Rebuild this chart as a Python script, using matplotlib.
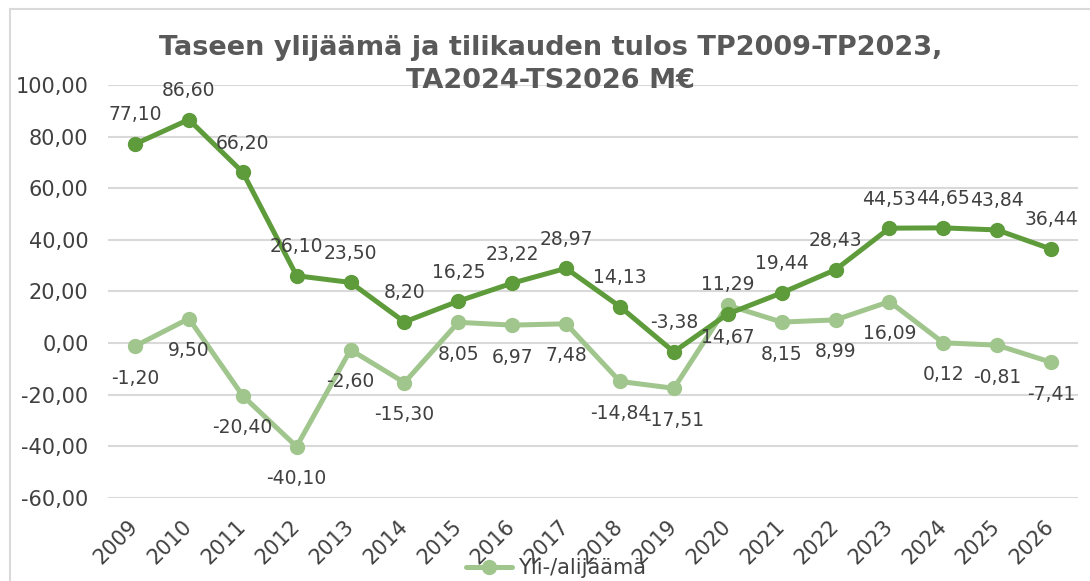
import numpy as np
import matplotlib
matplotlib.use("Agg")
import matplotlib.pyplot as plt
from matplotlib.patches import Rectangle

plt.rcParams.update({"font.family": ["DejaVu Sans"], "font.size": 13})

YEARS = ["2009", "2010", "2011", "2012", "2013", "2014", "2015", "2016", "2017",
         "2018", "2019", "2020", "2021", "2022", "2023", "2024", "2025", "2026"]
TASE = [77.10, 86.60, 66.20, 26.10, 23.50, 8.20, 16.25, 23.22, 28.97,
        14.13, -3.38, 11.29, 19.44, 28.43, 44.53, 44.65, 43.84, 36.44]
YLIALI = [-1.20, 9.50, -20.40, -40.10, -2.60, -15.30, 8.05, 6.97, 7.48,
          -14.84, -17.51, 14.67, 8.15, 8.99, 16.09, 0.12, -0.81, -7.41]

DARK = "#5e9b3b"
LIGHT = "#a0c68d"
TXT = "#404040"

def fi(v):
    return f"{v:.2f}".replace(".", ",")

fig = plt.figure(figsize=(10.9, 5.81), dpi=100)
ax = fig.add_axes([0.0991, 0.1429, 0.8899, 0.7108])
x = np.arange(len(YEARS))

ax.plot(x, YLIALI, color=LIGHT, lw=3.6, marker="o", ms=10, label="Yli-/alijäämä",
        solid_capstyle="round", zorder=3)
ax.plot(x, TASE, color=DARK, lw=3.6, marker="o", ms=10, label="Taseen ylijäämä",
        solid_capstyle="round", zorder=4)

for xi, v in zip(x, TASE):
    ax.annotate(fi(v), (xi, v), xytext=(0, 21), textcoords="offset points",
                ha="center", va="center", fontsize=13.5, color=TXT, zorder=5)
for xi, v in zip(x, YLIALI):
    ax.annotate(fi(v), (xi, v), xytext=(0, -23), textcoords="offset points",
                ha="center", va="center", fontsize=13.5, color=TXT, zorder=5)

ax.set_xlim(-0.5, len(YEARS) - 0.5)
ax.set_ylim(-60, 100)
ax.set_yticks(np.arange(-60, 101, 20))
ax.set_yticklabels([fi(v) for v in np.arange(-60, 101, 20)], color=TXT, fontsize=15)
ax.set_xticks(x)
ax.set_xticklabels(YEARS, rotation=45, ha="right", va="center",
                   rotation_mode="anchor", color=TXT, fontsize=15)
ax.tick_params(axis="both", length=0)
ax.tick_params(axis="y", pad=14)
ax.tick_params(axis="x", pad=18)
ax.grid(axis="y", color="#d9d9d9", lw=1.5)
ax.set_axisbelow(True)
for s in ax.spines.values():
    s.set_visible(False)

fig.text(0.5055, 0.9053, "Taseen ylijäämä ja tilikauden tulos TP2009-TP2023,",
         ha="center", va="baseline", fontsize=19.5, fontweight="bold", color="#595959")
fig.text(0.5055, 0.8485, "TA2024-TS2026 M€",
         ha="center", va="baseline", fontsize=19.5, fontweight="bold", color="#595959")

h = ax.get_legend_handles_labels()[0][0]
fig.legend([h], ["Yli-/alijäämä"], loc="center", bbox_to_anchor=(0.51, 0.022),
           frameon=False, fontsize=15, labelcolor=TXT, handlelength=2.2,
           handletextpad=0.3)

fig.patches.append(Rectangle((0.0092, -0.01), 1.0, 0.9945, transform=fig.transFigure,
                             fill=False, edgecolor="#d9d9d9", lw=1.5))

fig.savefig("out.png", dpi=100)
